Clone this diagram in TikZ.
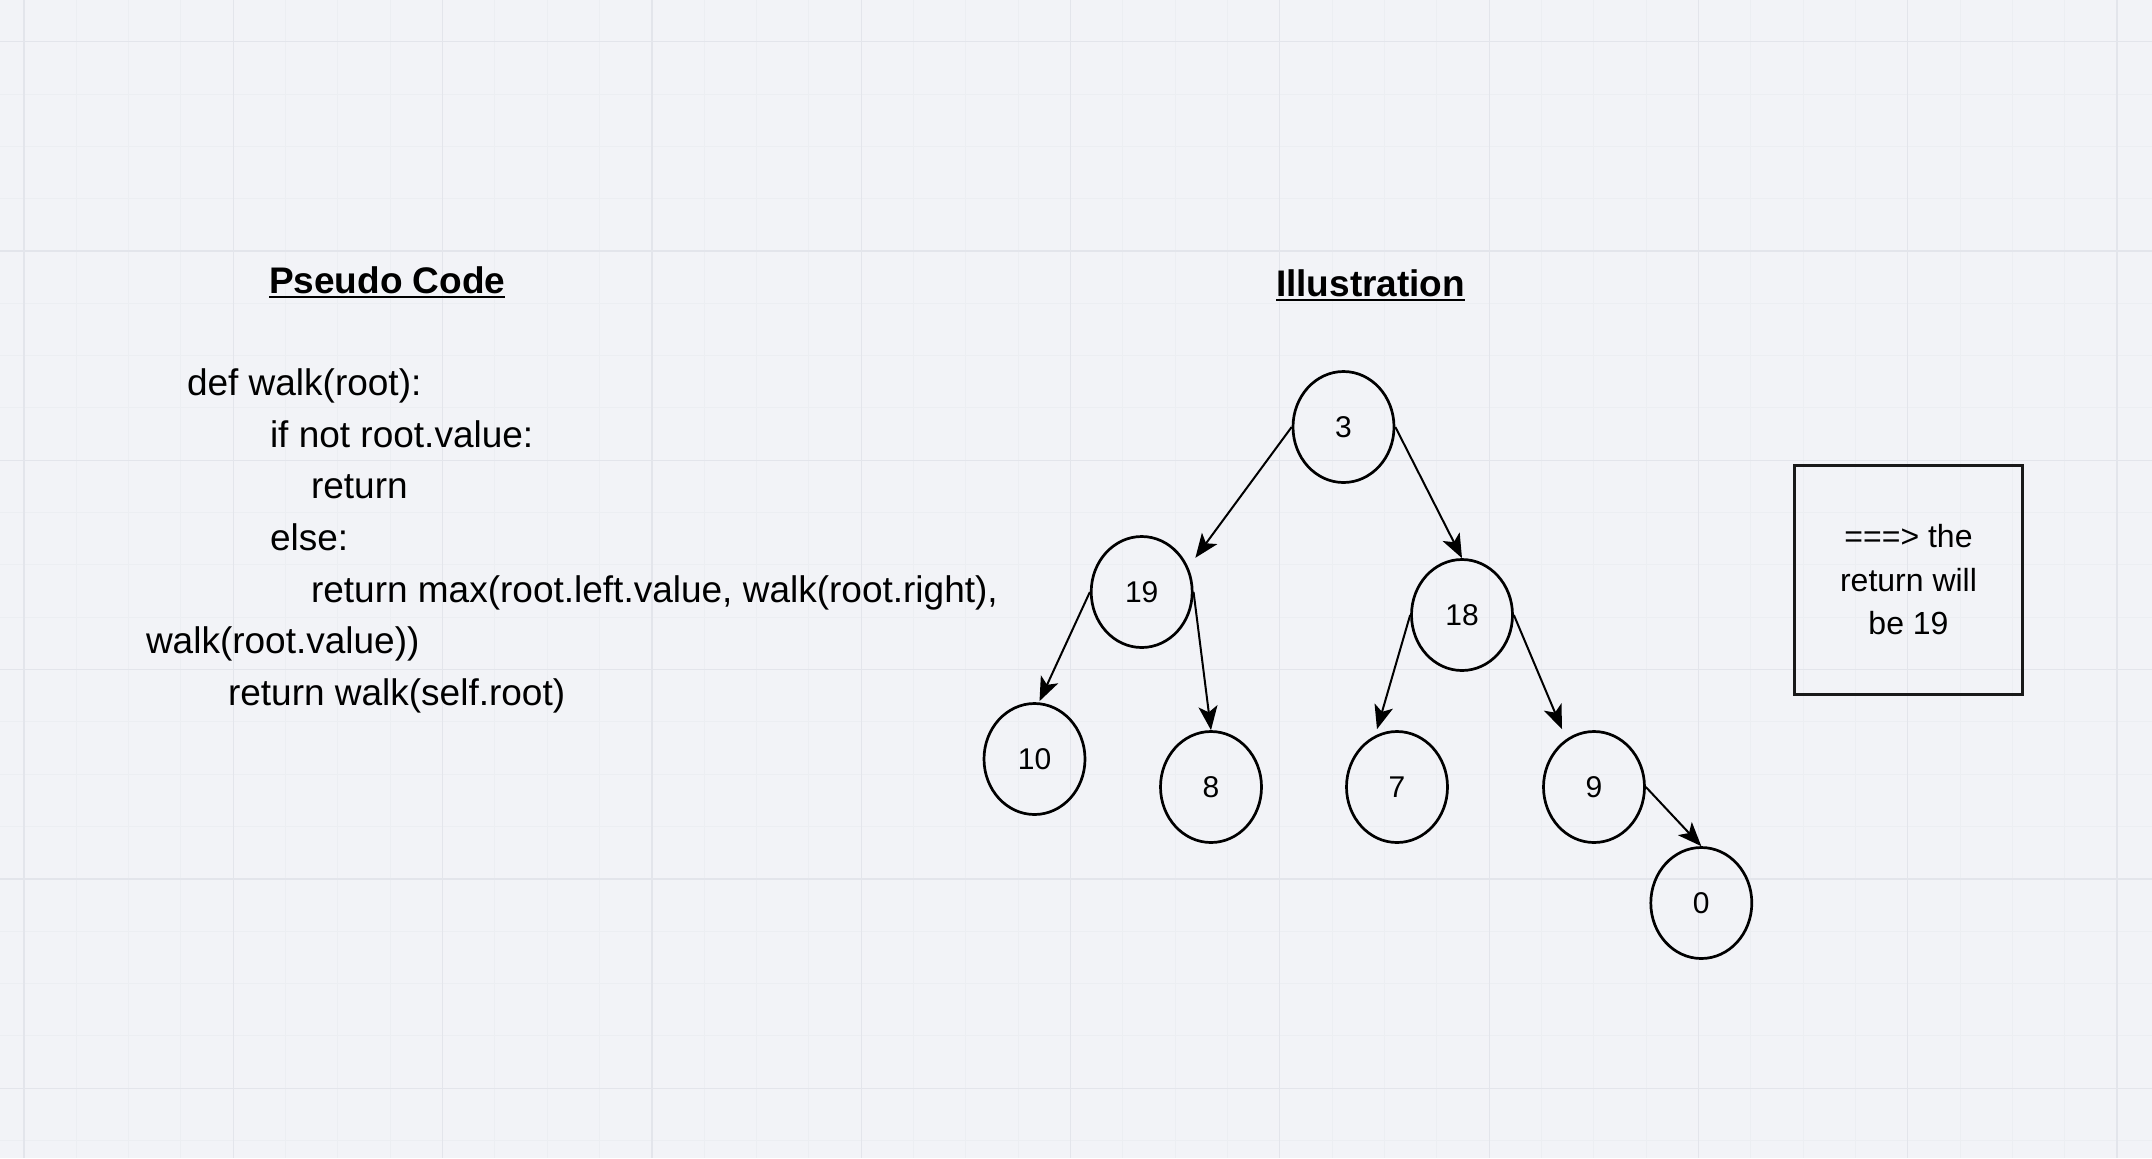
\documentclass[tikz,border=0pt]{standalone}
\usepackage{fontspec}
\setmainfont{Liberation Sans}
\usetikzlibrary{shapes.geometric,arrows.meta,calc}
\definecolor{bgc}{RGB}{242,243,247}
\definecolor{gmajor}{RGB}{227,229,235}
\definecolor{gminor}{RGB}{236,238,242}
\tikzset{
  codeline/.style={anchor=base west, inner sep=0pt, outer sep=0pt, font=\fontsize{18.5}{22}\selectfont},
  titletext/.style={anchor=base west, inner sep=0pt, outer sep=0pt, font=\bfseries\fontsize{18.5}{22}\selectfont},
  tnode/.style={ellipse, draw=black, line width=1.35pt, minimum width=50.5pt, minimum height=55.5pt, inner sep=0pt, font=\fontsize{15}{18}\selectfont},
  tedge/.style={line width=1pt, -{Stealth[length=12pt,width=9.5pt,inset=3pt]}},
  notebox/.style={rectangle, draw=black!90, line width=1.5pt, minimum width=114pt, minimum height=114.5pt, inner sep=0pt, align=center, font=\fontsize{16}{21.75}\selectfont}
}
\begin{document}
\begin{tikzpicture}[x=0.5pt,y=-0.5pt]
\useasboundingbox (0,0) rectangle (2152,1158);
\fill[bgc] (0,0) rectangle (2152,1158);
% minor grid
\foreach \i in {0,...,40} {\draw[gminor, line width=0.5pt] ({24+52.325*\i},0) -- ({24+52.325*\i},1158);}
\foreach \j in {0,...,21} {\draw[gminor, line width=0.5pt] (0,{41.7+52.325*\j}) -- (2152,{41.7+52.325*\j});}
% major grid
\foreach \i in {0,...,10} {\draw[gmajor, line width=0.6pt] ({24+209.3*\i},0) -- ({24+209.3*\i},1158);}
\foreach \j in {0,...,5} {\draw[gmajor, line width=0.6pt] (0,{41.7+209.3*\j}) -- (2152,{41.7+209.3*\j});}

% titles
\node[titletext] (pc) at (269,293) {Pseudo Code};
\draw[line width=1.1pt] ($(pc.base west)+(0,4)$) -- ($(pc.base east)+(0,4)$);
\node[titletext] (il) at (1276,296) {Illustration};
\draw[line width=1.1pt] ($(il.base west)+(0,4)$) -- ($(il.base east)+(0,4)$);

% code
\node[codeline] (c1) at (187,395) {def walk(root):};
\node[codeline] (c2) at (270,447) {if not root.value:};
\node[codeline] (c3) at (311,498) {return};
\node[codeline] (c4) at (270,550) {else:};
\node[codeline] (c5) at (311,602) {return max(root.left.value, walk(root.right),};
\node[codeline] (c6) at (146,653) {walk(root.value))};
\node[codeline] (c7) at (228,705) {return walk(self.root)};

% tree
\node[tnode] (n3)  at (1343.5,427) {3};
\node[tnode] (n19) at (1141.7,592) {19};
\node[tnode] (n18) at (1462,615) {18};
\node[tnode] (n10) at (1034.5,759) {10};
\node[tnode] (n8)  at (1211,787) {8};
\node[tnode] (n7)  at (1397,787) {7};
\node[tnode] (n9)  at (1594,787) {9};
\node[tnode] (n0)  at (1701.3,903) {0};

\draw[tedge] (n3.west) -- ($(n19.north east)+(17,6)$);
\draw[tedge] (n3.east) -- (n18.north);
\draw[tedge] (n19.west) -- ($(n10.north)+(5,-1)$);
\draw[tedge] (n19.east) -- (n8.north);
\draw[tedge] (n18.west) -- ($(n7.north)+(-20,-1)$);
\draw[tedge] (n18.east) -- ($(n9.north)+(-32,-1)$);
\draw[tedge] (n9.east) -- (n0.north);

% note box
\node[notebox] (note) at (1908.5,580) {===> the\\return will\\be 19};
\end{tikzpicture}
\end{document}
